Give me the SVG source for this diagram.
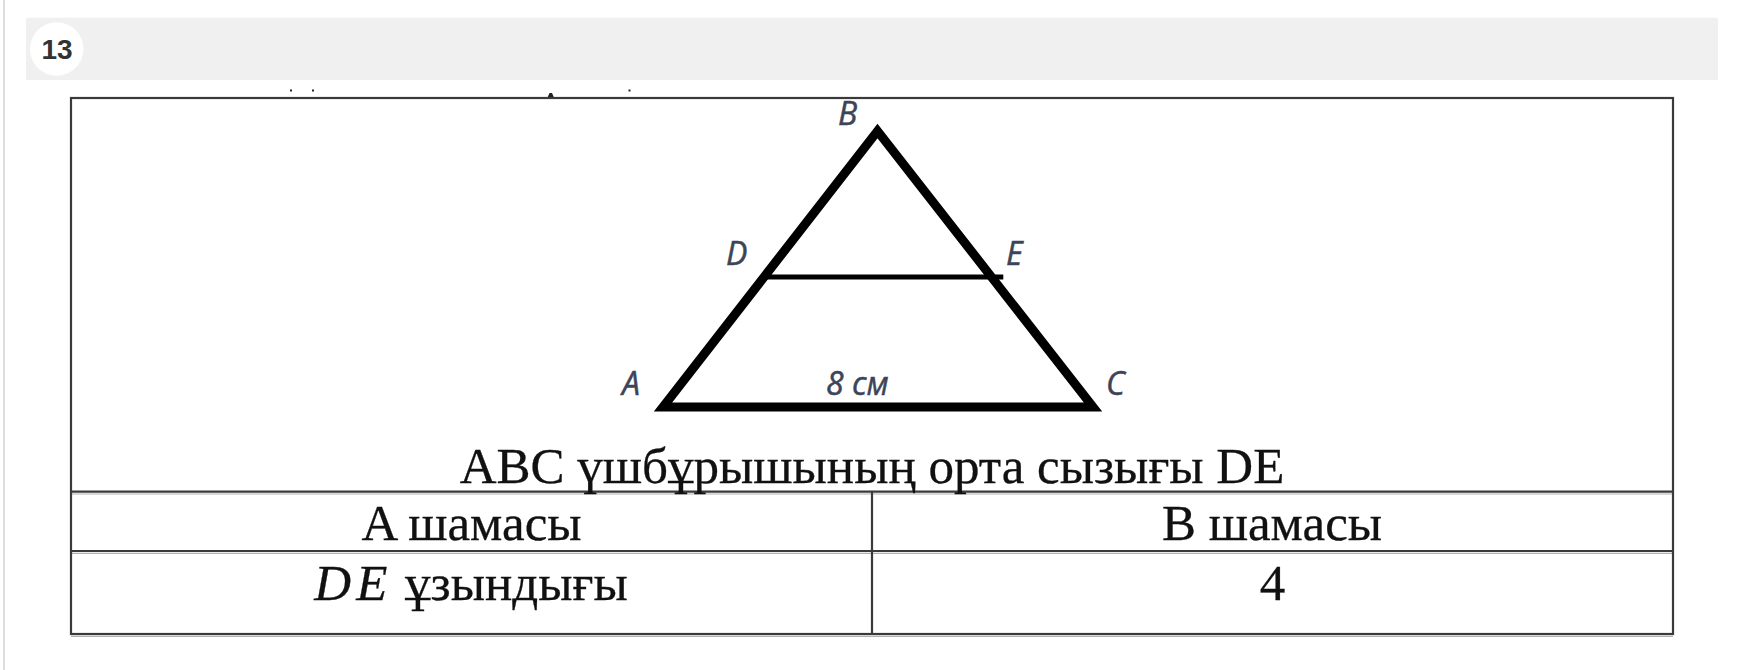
<svg xmlns="http://www.w3.org/2000/svg" width="1738" height="670" viewBox="0 0 1738 670">
  <style>
    .lbl { font-family: "Open Sans", "Liberation Sans", sans-serif; font-style: italic; font-size: 32px; fill: #3c4457; stroke: #3c4457; stroke-width: 0.5; }
    .txt { font-family: "Liberation Serif", "DejaVu Serif", serif; font-size: 51px; fill: #111; stroke: #111; stroke-width: 0.3; }
    .tbl { stroke: #3a3a3a; stroke-width: 2.2; fill: none; }
    .shadow { stroke: #b0b0b0; stroke-width: 1.2; fill: none; }
    .fig { stroke: #000; fill: none; stroke-linejoin: miter; }
  </style>
  <rect x="0" y="0" width="1738" height="670" fill="#ffffff"/>
  <g id="header">
    <rect x="3" y="0" width="2" height="670" fill="#dddddd"/>
    <rect x="26" y="17.7" width="1692" height="62.3" fill="#f0f0f0"/>
    <circle cx="56.7" cy="49" r="26.7" fill="#ffffff"/>
    <text x="57" y="58.5" text-anchor="middle" font-family="Liberation Sans, Arial, sans-serif" font-weight="bold" font-size="28" fill="#333333">13</text>
  </g>
  <g id="specks" fill="#222">
    <rect x="290" y="89.5" width="2" height="2"/>
    <rect x="312" y="89.5" width="2" height="2"/>
    <path d="M547.5 97.5 L549.5 93 L552 93 L554 97.5 Z"/>
    <rect x="628.5" y="89.5" width="2" height="2"/>
  </g>
  <g id="table">
    <line class="shadow" x1="71" y1="494" x2="1673" y2="494"/>
    <line class="shadow" x1="71" y1="553.3" x2="1673" y2="553.3"/>
    <line class="shadow" x1="71" y1="636.3" x2="1673" y2="636.3"/>
    <rect class="tbl" x="71" y="98" width="1602" height="536"/>
    <line class="tbl" x1="71" y1="491.7" x2="1673" y2="491.7"/>
    <line class="tbl" x1="71" y1="551" x2="1673" y2="551"/>
    <line class="tbl" x1="872" y1="491.7" x2="872" y2="634" stroke-width="1.6"/>
  </g>
  <g id="triangle">
    <polygon class="fig" points="663,407 877.5,131 1093,407" stroke-width="9"/>
    <line id="midline-DE" class="fig" x1="764" y1="277" x2="1003.3" y2="277" stroke-width="5"/>
  </g>
  <g id="labels">
    <text class="lbl" x="838" y="125">B</text>
    <text class="lbl" x="726" y="265">D</text>
    <text class="lbl" x="1006" y="265">E</text>
    <text class="lbl" x="622" y="395">A</text>
    <text class="lbl" x="1106" y="395">C</text>
    <text class="lbl" x="826" y="395">8 см</text>
  </g>
  <g id="caption">
    <text class="txt" x="872" y="483" text-anchor="middle">ABC үшбұрышының орта сызығы DE</text>
  </g>
  <g id="row-header">
    <text class="txt" x="471.5" y="540" text-anchor="middle">A шамасы</text>
    <text class="txt" x="1272" y="540" text-anchor="middle">B шамасы</text>
  </g>
  <g id="row-data">
    <text class="txt" x="471" y="600" text-anchor="middle"><tspan font-style="italic" letter-spacing="5">DE</tspan> ұзындығы</text>
    <text class="txt" x="1272.5" y="600" text-anchor="middle">4</text>
  </g>
</svg>
